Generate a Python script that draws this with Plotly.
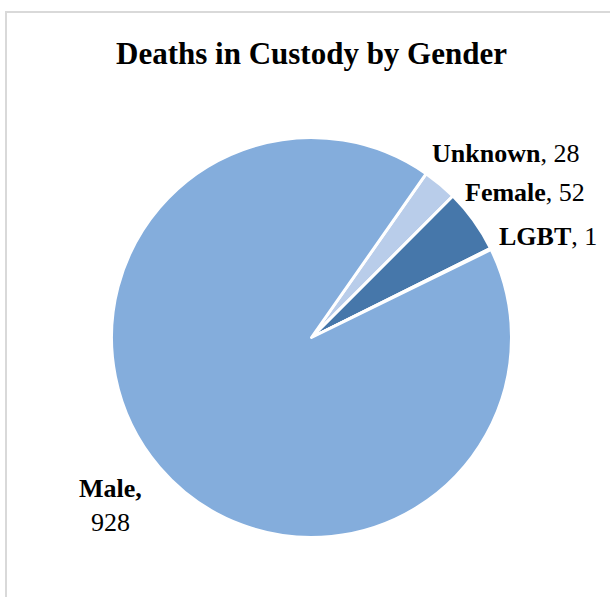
import plotly.graph_objects as go

# Deaths in custody, by recorded gender
categories = ["Unknown", "Female", "LGBT", "Male"]
deaths = [28, 52, 1, 928]
slice_colors = ["#B9CDEA", "#4677AA", "#4677AA", "#84ADDC"]

W, H = 610, 597
FONT = "Liberation Serif"

# Pie centre and radius in pixels
cx, cy, r = 311.5, 337.5, 200

fig = go.Figure(
    go.Pie(
        labels=categories,
        values=deaths,
        sort=False,
        direction="clockwise",
        rotation=35,
        marker=dict(colors=slice_colors, line=dict(color="white", width=3)),
        textinfo="none",
        hoverinfo="label+value",
        showlegend=False,
        domain=dict(x=[(cx - r) / W, (cx + r) / W], y=[(H - cy - r) / H, (H - cy + r) / H]),
    )
)

# Data labels: bold category name followed by the count
label_pos = {
    "Unknown": (505, 153, "right_single"),
    "Female": (525, 192, "right_single"),
    "LGBT": (548, 236, "right_single"),
    "Male": (110, 505, "stacked"),
}
for cat, val in zip(categories, deaths):
    px, py, style = label_pos[cat]
    if style == "stacked":
        text = f"<b>{cat},</b><br>{val}"
    else:
        text = f"<b>{cat}</b>, {val}"
    fig.add_annotation(
        x=px / W, y=1 - py / H, xref="paper", yref="paper",
        text=text, showarrow=False, xanchor="center", yanchor="middle",
        align="center", font=dict(family=FONT, size=26, color="black"),
    )

# Title
fig.add_annotation(
    x=cx / W, y=1 - 54 / H, xref="paper", yref="paper",
    text="<b>Deaths in Custody by Gender</b>", showarrow=False,
    xanchor="center", yanchor="middle",
    font=dict(family=FONT, size=31, color="black"),
)

# Chart-area frame
fig.add_shape(
    type="rect", xref="paper", yref="paper",
    x0=6 / W, y0=-0.05, x1=1.05, y1=1 - 12 / H,
    line=dict(color="#D9D9D9", width=2), fillcolor="rgba(0,0,0,0)", layer="below",
)

fig.update_layout(
    width=W, height=H,
    margin=dict(l=0, r=0, t=0, b=0),
    paper_bgcolor="white", plot_bgcolor="white",
)

fig.write_html("out.html")
